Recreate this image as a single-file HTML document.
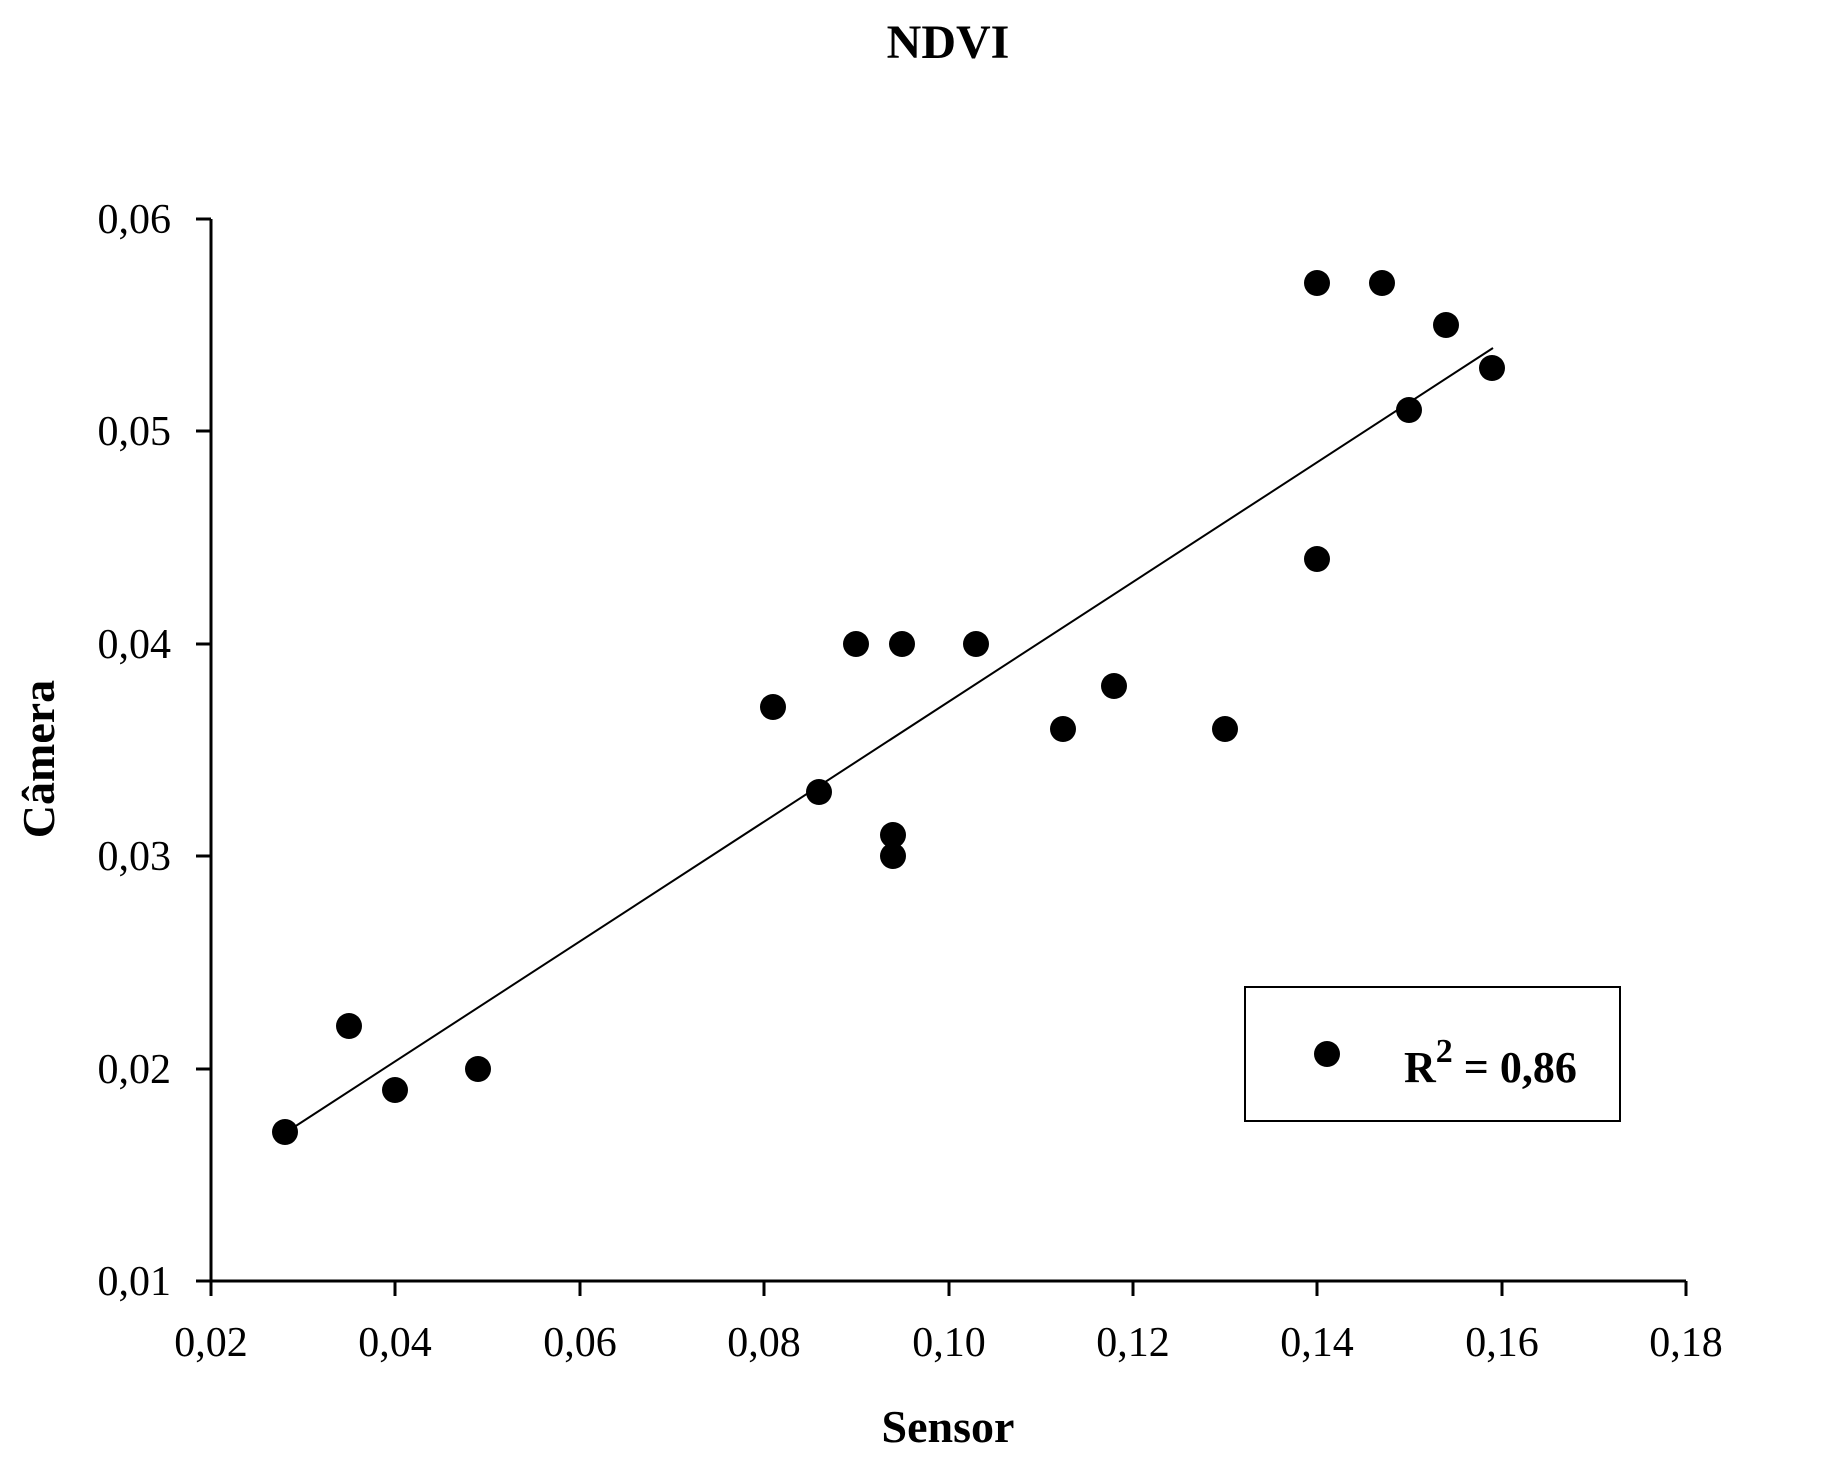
<!DOCTYPE html>
<html><head><meta charset="utf-8"><style>html,body{margin:0;padding:0;background:#fff}svg{display:block}</style></head>
<body>
<svg width="1829" height="1465" viewBox="0 0 1829 1465" xmlns="http://www.w3.org/2000/svg" font-family="Liberation Serif, serif">
<rect width="1829" height="1465" fill="#fff"/>
<text x="948" y="58" font-size="48" font-weight="bold" text-anchor="middle">NDVI</text>
<g stroke="#000" stroke-width="3" fill="none">
<line x1="211" y1="219" x2="211" y2="1282"/>
<line x1="196" y1="1281" x2="1686" y2="1281"/>
<line x1="196" y1="219" x2="211" y2="219"/>
<line x1="196" y1="431" x2="211" y2="431"/>
<line x1="196" y1="644" x2="211" y2="644"/>
<line x1="196" y1="856" x2="211" y2="856"/>
<line x1="196" y1="1069" x2="211" y2="1069"/>
<line x1="211" y1="1281" x2="211" y2="1296"/>
<line x1="395" y1="1281" x2="395" y2="1296"/>
<line x1="580" y1="1281" x2="580" y2="1296"/>
<line x1="764" y1="1281" x2="764" y2="1296"/>
<line x1="949" y1="1281" x2="949" y2="1296"/>
<line x1="1133" y1="1281" x2="1133" y2="1296"/>
<line x1="1317" y1="1281" x2="1317" y2="1296"/>
<line x1="1502" y1="1281" x2="1502" y2="1296"/>
<line x1="1686" y1="1281" x2="1686" y2="1296"/>
</g>
<g font-size="42" text-anchor="end">
<text x="171" y="233">0,06</text>
<text x="171" y="445">0,05</text>
<text x="171" y="658">0,04</text>
<text x="171" y="870">0,03</text>
<text x="171" y="1083">0,02</text>
<text x="171" y="1295">0,01</text>
</g>
<g font-size="42" text-anchor="middle">
<text x="211" y="1356">0,02</text>
<text x="395" y="1356">0,04</text>
<text x="580" y="1356">0,06</text>
<text x="764" y="1356">0,08</text>
<text x="949" y="1356">0,10</text>
<text x="1133" y="1356">0,12</text>
<text x="1317" y="1356">0,14</text>
<text x="1502" y="1356">0,16</text>
<text x="1686" y="1356">0,18</text>
</g>
<text x="948" y="1442" font-size="46" font-weight="bold" text-anchor="middle">Sensor</text>
<text transform="translate(54,759) rotate(-90)" font-size="46" font-weight="bold" text-anchor="middle">Câmera</text>
<line x1="285" y1="1133" x2="1493" y2="348" stroke="#000" stroke-width="2"/>
<g fill="#000">
<circle cx="285" cy="1132" r="13"/>
<circle cx="349" cy="1026" r="13"/>
<circle cx="395" cy="1090" r="13"/>
<circle cx="478" cy="1069" r="13"/>
<circle cx="773" cy="707" r="13"/>
<circle cx="819" cy="792" r="13"/>
<circle cx="856" cy="644" r="13"/>
<circle cx="893" cy="835" r="13"/>
<circle cx="893" cy="856" r="13"/>
<circle cx="902" cy="644" r="13"/>
<circle cx="976" cy="644" r="13"/>
<circle cx="1063" cy="729" r="13"/>
<circle cx="1114" cy="686" r="13"/>
<circle cx="1225" cy="729" r="13"/>
<circle cx="1317" cy="283" r="13"/>
<circle cx="1317" cy="559" r="13"/>
<circle cx="1382" cy="283" r="13"/>
<circle cx="1409" cy="410" r="13"/>
<circle cx="1446" cy="325" r="13"/>
<circle cx="1492" cy="368" r="13"/>
</g>
<rect x="1245" y="987" width="375" height="134" fill="#fff" stroke="#000" stroke-width="2"/>
<circle cx="1327" cy="1054" r="13" fill="#000"/>
<text x="1404" y="1082" font-size="44" font-weight="bold">R<tspan font-size="34" dy="-20">2</tspan><tspan dy="20"> = 0,86</tspan></text>
</svg>
</body></html>
